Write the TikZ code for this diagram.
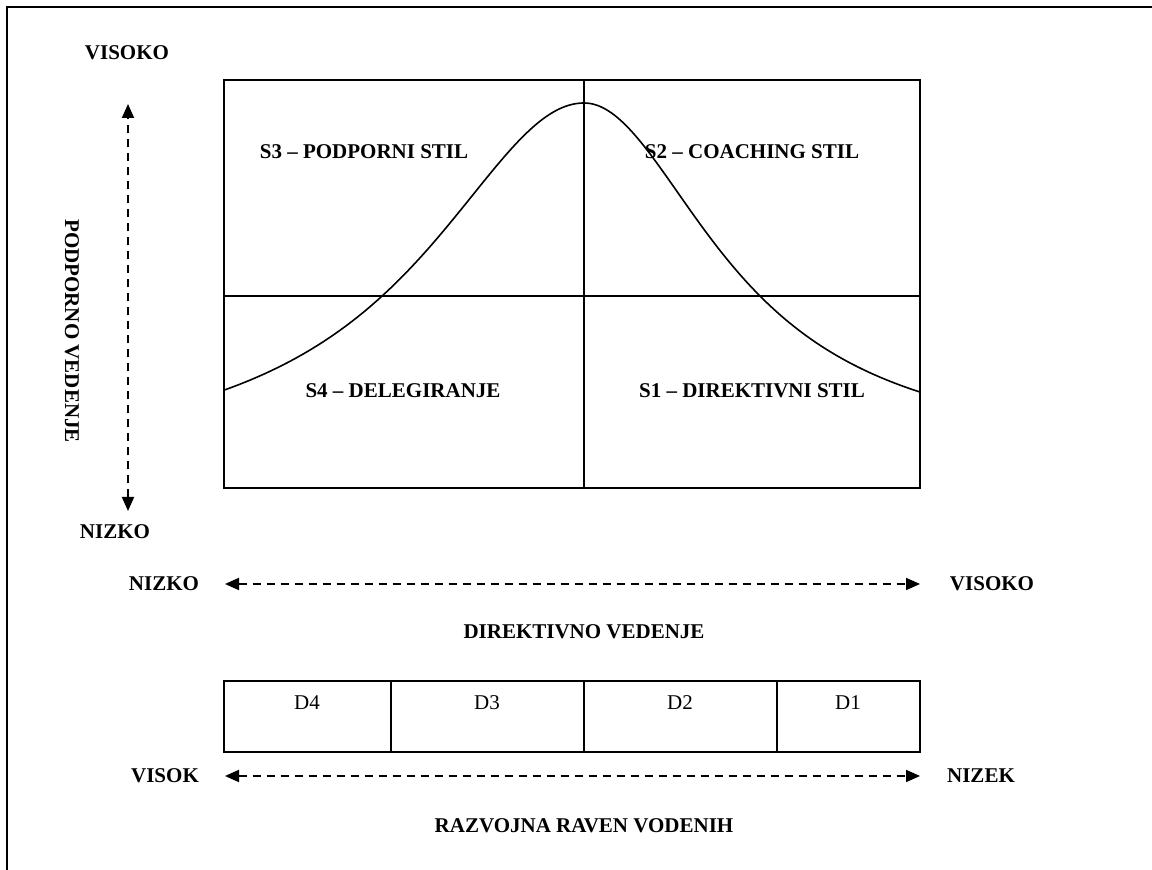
\documentclass[tikz,border=0pt]{standalone}
\usepackage{fontspec}
\setmainfont{Liberation Serif}
\usetikzlibrary{arrows.meta}
\begin{document}
\begin{tikzpicture}[x=0.5pt,y=-0.5pt,
  lbl/.style={font=\fontsize{10.5}{12}\selectfont\bfseries, inner sep=0pt},
  dlbl/.style={font=\fontsize{10.5}{12}\selectfont, inner sep=0pt},
  frameline/.style={line width=1pt},
  gridline/.style={line width=0.8pt},
  dasharrow/.style={line width=0.9pt, dash pattern=on 4pt off 3pt,
    {Triangle[length=7pt,width=6pt]}-{Triangle[length=7pt,width=6pt]}},
]
\useasboundingbox (0,0) rectangle (1152,870);
% outer frame
\draw[frameline] (7,900) -- (7,7) -- (1200,7);

% situational leadership grid
\coordinate (gTL) at (224,80);
\coordinate (gBR) at (920,488);
\coordinate (gTop) at (584,80);
\coordinate (gBot) at (584,488);
\coordinate (gLeft) at (224,296);
\coordinate (gRight) at (920,296);
\draw[gridline] (gTL) rectangle (gBR);
\draw[gridline] (gTop) -- (gBot);
\draw[gridline] (gLeft) -- (gRight);

% bell curve (distance from the peak measured in hundreds of units)
\draw[gridline] plot[domain=-3.6:0, samples=120, smooth]
  ({584+100*\x}, {103+370*\x*\x/(\x*\x+3.738)});
\draw[gridline] plot[domain=0:3.36, samples=120, smooth]
  ({584+100*\x}, {103+356*\x*\x/(\x*\x+2.615)});

% quadrant labels
\node[lbl] (s3) at (364,152) {S3 – PODPORNI STIL};
\node[lbl] (s2) at (752,152) {S2 – COACHING STIL};
\node[lbl] (s4) at (403,391) {S4 – DELEGIRANJE};
\node[lbl] (s1) at (752,391) {S1 – DIREKTIVNI STIL};

% vertical axis
\node[lbl] (vHigh) at (127,53) {VISOKO};
\node[lbl] (vLow) at (115,532) {NIZKO};
\coordinate (vA) at (128,104);
\coordinate (vB) at (128,511);
\draw[dasharrow] (vB) -- (vA);
\node[lbl, rotate=-90] (vTitle) at (72,331) {PODPORNO VEDENJE};

% horizontal axis
\node[lbl] (hLow) at (164,584) {NIZKO};
\node[lbl] (hHigh) at (992,584) {VISOKO};
\coordinate (hA) at (225,584);
\coordinate (hB) at (920,584);
\draw[dasharrow] (hA) -- (hB);
\node[lbl] (hTitle) at (584,632) {DIREKTIVNO VEDENJE};

% development levels
\coordinate (dTL) at (224,681);
\coordinate (dBR) at (920,752);
\draw[gridline] (dTL) rectangle (dBR);
\coordinate (d1t) at (391,681); \coordinate (d1b) at (391,752);
\coordinate (d2t) at (584,681); \coordinate (d2b) at (584,752);
\coordinate (d3t) at (777,681); \coordinate (d3b) at (777,752);
\draw[gridline] (d1t) -- (d1b);
\draw[gridline] (d2t) -- (d2b);
\draw[gridline] (d3t) -- (d3b);
\node[dlbl] (d4) at (307,703) {D4};
\node[dlbl] (d3) at (487,703) {D3};
\node[dlbl] (d2) at (680,703) {D2};
\node[dlbl] (d1) at (848,703) {D1};

\node[lbl] (lHigh) at (165,776) {VISOK};
\node[lbl] (lLow) at (981,776) {NIZEK};
\coordinate (lA) at (225,776);
\coordinate (lB) at (920,776);
\draw[dasharrow] (lA) -- (lB);
\node[lbl] (lTitle) at (584,826) {RAZVOJNA RAVEN VODENIH};
\end{tikzpicture}
\end{document}
